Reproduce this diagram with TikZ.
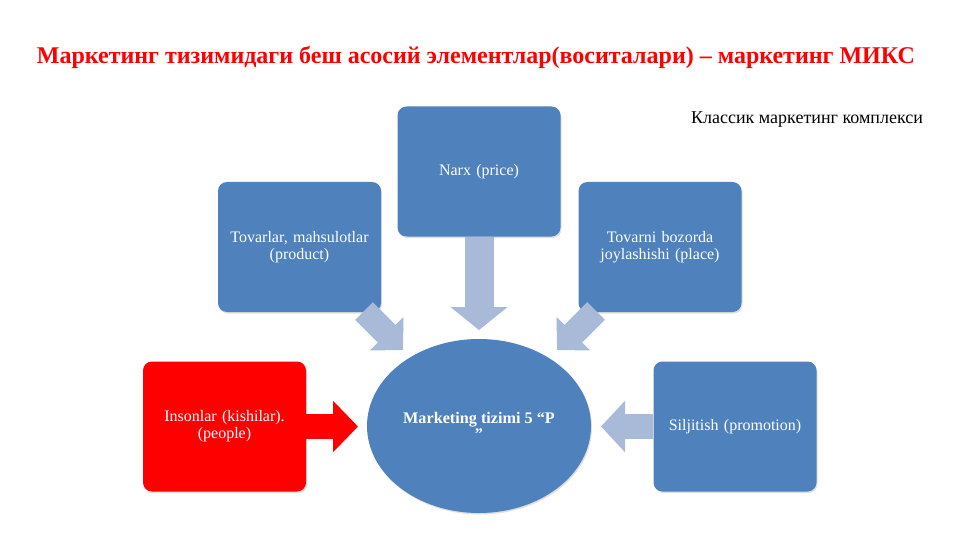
\documentclass[tikz,border=0pt]{standalone}
\usepackage{fontspec}
\setmainfont{Liberation Serif}
\usetikzlibrary{shapes.geometric,arrows.meta,shadows,calc}
\hyphenpenalty=10000
\exhyphenpenalty=10000
\definecolor{boxblue}{RGB}{79,129,189}
\definecolor{arrowblue}{RGB}{168,186,216}
\definecolor{titlered}{RGB}{255,0,0}
\tikzset{
  pbox/.style={rectangle, rounded corners=9pt, fill=boxblue, text=white, align=center,
    minimum width=163pt, minimum height=130pt, inner sep=0pt, text width=158pt,
    font=\fontsize{16}{17}\selectfont,
    drop shadow={shadow xshift=1pt, shadow yshift=-1.5pt, opacity=0.25}},
  redbox/.style={pbox, fill=titlered},
  core/.style={ellipse, fill=boxblue, text=white, align=center, minimum width=224pt,
    minimum height=174pt, inner sep=0pt, font=\bfseries\fontsize{16.2}{16}\selectfont,
    drop shadow={shadow xshift=1pt, shadow yshift=-1.5pt, opacity=0.25}},
  vconn/.style={draw=arrowblue, line width=29pt, -{Triangle[length=23pt,width=56pt]}},
  dconn/.style={draw=arrowblue, line width=25pt, -{Triangle[length=23pt,width=46pt]}},
  hconn/.style={draw=arrowblue, line width=25pt, -{Triangle[length=24pt,width=50pt]}},
  rconn/.style={draw=titlered, line width=25pt, -{Triangle[length=25pt,width=50pt]}},
}
\begin{document}
\begin{tikzpicture}[x=1pt,y=-1pt]
\useasboundingbox (0,0) rectangle (960,540);
\fill[white] (0,0) rectangle (960,540);
\node[text=titlered, font=\bfseries\fontsize{24}{26}\selectfont, anchor=center] (title) at (476,57)
  {Маркетинг тизимидаги беш асосий элементлар(воситалари) – маркетинг МИКС};
\node[font=\fontsize{18}{20}\selectfont, anchor=center] (classic) at (807,120) {Классик маркетинг комплекси};

\node[pbox] (product) at (299.5,247) {Tovarlar, mahsulotlar (product)};
\node[pbox] (price) at (479,171.5) {Narx (price)};
\node[pbox] (place) at (660,247) {Tovarni bozorda joylashishi (place)};
\node[redbox] (people) at (224.5,426.5) {Insonlar (kishilar).\\(people)};
\node[pbox] (promo) at (735,426.5) {Siljitish (promotion)};

\coordinate (tipP) at (479,330);
\coordinate (tipL) at (403,350);
\coordinate (tipR) at (557,350);
\coordinate (tipS) at (601,426.5);
\coordinate (tipI) at (358,426.5);
\coordinate (startL) at (364,311);
\coordinate (startR) at (596,311);

\draw[vconn] (price.south) -- (tipP);
\draw[dconn] (startL) -- (tipL);
\draw[dconn] (startR) -- (tipR);
\draw[hconn] (promo.west) -- (tipS);
\draw[rconn] (people.east) -- (tipI);

\node[core] (mix) at (479,426) {Marketing tizimi 5 “P\\”};
\end{tikzpicture}
\end{document}
